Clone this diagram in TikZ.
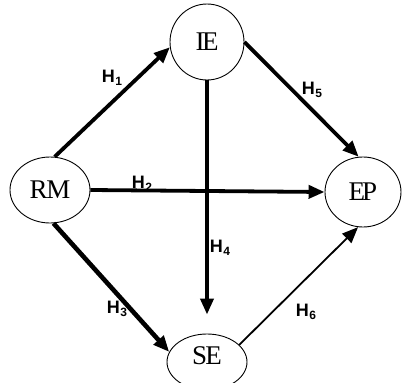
\documentclass[tikz,border=0pt]{standalone}
\usepackage{fontspec}
\setmainfont{Liberation Serif}
\newfontfamily\labfont{Liberation Sans}
\usetikzlibrary{shapes.geometric,arrows.meta}
\newcommand{\hlab}[1]{H\kern0.5pt\raisebox{-3.5pt}{\fontsize{12}{12}\selectfont #1}}
\begin{document}
\begin{tikzpicture}[x=1pt,y=-1pt,
  var/.style={draw,ellipse,line width=0.9pt,inner sep=0pt,font=\fontsize{27}{27}\selectfont},
  hyp/.style={font=\labfont\bfseries\fontsize{18}{18}\selectfont,inner sep=0pt},
  arr/.style={line width=3.8pt,-{Triangle[length=16pt,width=13pt]}},
  thinarr/.style={line width=1.8pt,-{Triangle[length=16pt,width=13pt]}}]
\useasboundingbox (0,0) rectangle (402,383);
\clip (0,0) rectangle (402,383);
\node[var,minimum width=80pt,minimum height=66pt] (RM) at (50,190) {R\kern-1.5pt M};
\node[var,minimum width=74pt,minimum height=76pt] (IE) at (207,42) {I\kern-2.5pt E};
\node[var,minimum width=76pt,minimum height=70pt] (EP) at (363,192) {E\kern-3pt P};
\node[var,minimum width=80pt,minimum height=56pt] (SE) at (207,362) {\raisebox{12pt}{S\kern-2pt E}};
\draw[arr] (RM.82) -- (IE.188);
\draw[arr] (RM.east) -- (EP.west);
\draw[arr,line width=4.6pt] (RM.276) -- (SE.165);
\draw[arr] (IE.east) -- (EP.97);
\draw[arr,shorten >=19pt] (IE.south) -- (SE.north);
\draw[thinarr] (SE.28) -- (EP.262);
\node[hyp] (h1) at (112,78) {\hlab{1}};
\node[hyp] (h2) at (142,184) {\hlab{2}};
\node[hyp] (h3) at (117,309) {\hlab{3}};
\node[hyp] (h4) at (220,248) {\hlab{4}};
\node[hyp] (h5) at (312,90) {\hlab{5}};
\node[hyp] (h6) at (306,312) {\hlab{6}};
\end{tikzpicture}
\end{document}
